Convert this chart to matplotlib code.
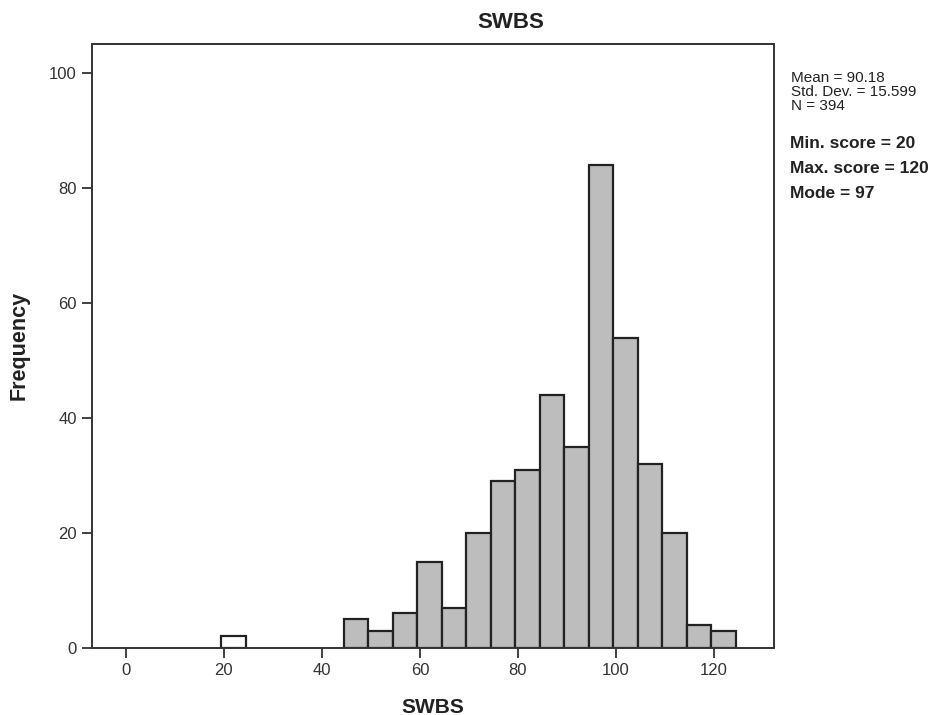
import numpy as np
import matplotlib.pyplot as plt

plt.rcParams['font.family'] = ['Liberation Sans', 'DejaVu Sans']

# histogram bins (width 5) and counts
bin_edges = [19.5, 24.5, 29.5, 34.5, 39.5, 44.5, 49.5, 54.5, 59.5, 64.5, 69.5,
             74.5, 79.5, 84.5, 89.5, 94.5, 99.5, 104.5, 109.5, 114.5, 119.5, 124.5]
counts = [2, 0, 0, 0, 0, 5, 3, 6, 15, 7, 20, 29, 31, 44, 35, 84, 54, 32, 20, 4, 3]
xticks = [0, 20, 40, 60, 80, 100, 120]
yticks = [0, 20, 40, 60, 80, 100]

stats_text = "Mean = 90.18\nStd. Dev. = 15.599\nN = 394"
extra_text = ["Min. score = 20", "Max. score = 120", "Mode = 97"]

fig = plt.figure(figsize=(9.4, 7.15), dpi=100)
ax = fig.add_axes([0.098, 0.094, 0.725, 0.845])

lefts = np.array(bin_edges[:-1])
widths = np.diff(bin_edges)
colors = ['white' if l < 40 else '#bdbdbd' for l in lefts]
for l, w, c, col in zip(lefts, widths, counts, colors):
    if c > 0:
        ax.bar(l, c, width=w, align='edge', color=col, edgecolor='#222222', linewidth=1.6)

ax.set_xlim(-6.9, 132.2)
ax.set_ylim(0, 105.2)
ax.set_xticks(xticks)
ax.set_yticks(yticks)
ax.tick_params(axis='both', labelsize=12, length=7.5, width=1.3, color='#333333',
               labelcolor='#333333')
for s in ax.spines.values():
    s.set_linewidth(1.4)
    s.set_color('#333333')

fig.text(0.543, 0.969, "SWBS", fontsize=16, fontweight='bold', ha='center',
         va='center', color='#222222')
ax.set_xlabel("SWBS", fontsize=15, fontweight='bold', labelpad=14, color='#222222')
ax.set_ylabel("Frequency", fontsize=15.5, fontweight='bold', labelpad=14, color='#222222')

fig.text(0.841, 0.900, stats_text, fontsize=11, va='top', linespacing=1.0, color='#222222')
for i, t in enumerate(extra_text):
    fig.text(0.840, 0.799 - i * 0.0345, t, fontsize=12.5, fontweight='bold',
             va='center', color='#222222')

fig.savefig("out.png", dpi=100)
